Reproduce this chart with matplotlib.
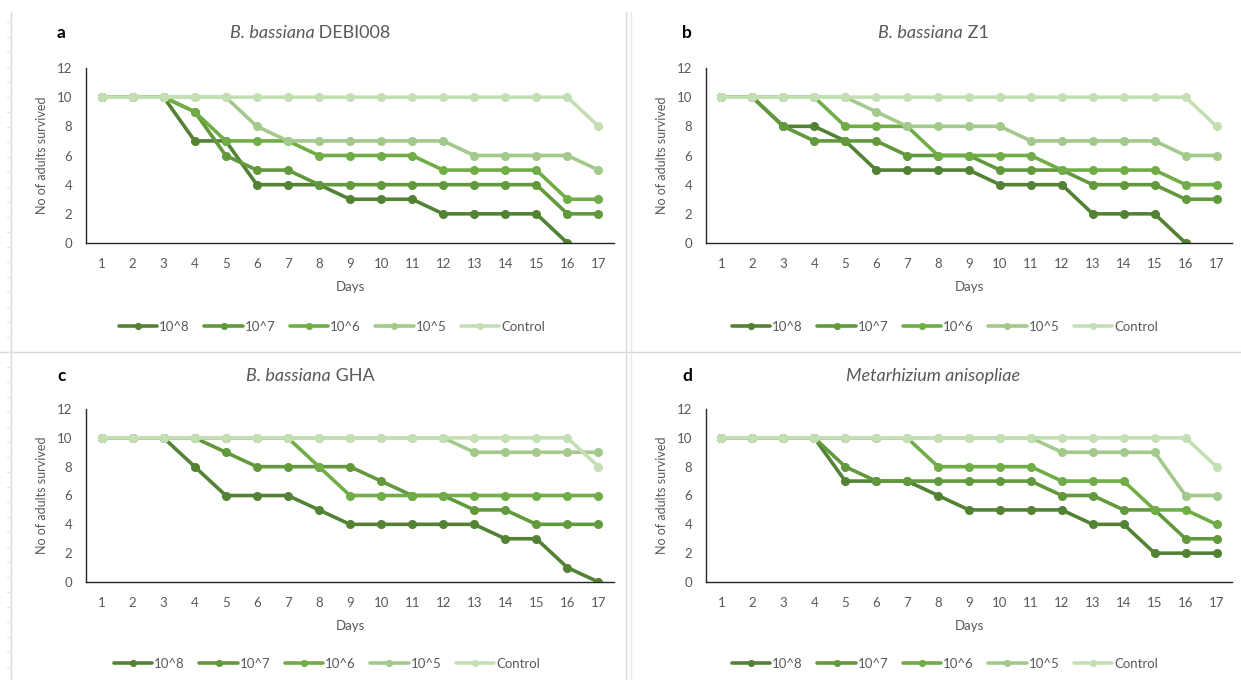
import numpy as np
import matplotlib.pyplot as plt
from matplotlib.lines import Line2D

plt.rcParams['font.family'] = ['Lato', 'DejaVu Sans']

nan = np.nan
days = list(range(1, 18))
series_names = ['10^8', '10^7', '10^6', '10^5', 'Control']
colors = ['#548235', '#62993d', '#70ad47', '#a3c98c', '#c5dfb5']

# panel a - B. bassiana DEBI008
a_1e8 = [10, 10, 10, 7, 7, 4, 4, 4, 3, 3, 3, 2, 2, 2, 2, 0, nan]
a_1e7 = [10, 10, 10, 9, 6, 5, 5, 4, 4, 4, 4, 4, 4, 4, 4, 2, 2]
a_1e6 = [10, 10, 10, 9, 7, 7, 7, 6, 6, 6, 6, 5, 5, 5, 5, 3, 3]
a_1e5 = [10, 10, 10, 10, 10, 8, 7, 7, 7, 7, 7, 7, 6, 6, 6, 6, 5]
a_ctl = [10, 10, 10, 10, 10, 10, 10, 10, 10, 10, 10, 10, 10, 10, 10, 10, 8]

# panel b - B. bassiana Z1
b_1e8 = [10, 10, 8, 8, 7, 5, 5, 5, 5, 4, 4, 4, 2, 2, 2, 0, nan]
b_1e7 = [10, 10, 8, 7, 7, 7, 6, 6, 6, 5, 5, 5, 4, 4, 4, 3, 3]
b_1e6 = [10, 10, 10, 10, 8, 8, 8, 6, 6, 6, 6, 5, 5, 5, 5, 4, 4]
b_1e5 = [10, 10, 10, 10, 10, 9, 8, 8, 8, 8, 7, 7, 7, 7, 7, 6, 6]
b_ctl = [10, 10, 10, 10, 10, 10, 10, 10, 10, 10, 10, 10, 10, 10, 10, 10, 8]

# panel c - B. bassiana GHA
c_1e8 = [10, 10, 10, 8, 6, 6, 6, 5, 4, 4, 4, 4, 4, 3, 3, 1, 0]
c_1e7 = [10, 10, 10, 10, 9, 8, 8, 8, 8, 7, 6, 6, 5, 5, 4, 4, 4]
c_1e6 = [10, 10, 10, 10, 10, 10, 10, 8, 6, 6, 6, 6, 6, 6, 6, 6, 6]
c_1e5 = [10, 10, 10, 10, 10, 10, 10, 10, 10, 10, 10, 10, 9, 9, 9, 9, 9]
c_ctl = [10, 10, 10, 10, 10, 10, 10, 10, 10, 10, 10, 10, 10, 10, 10, 10, 8]

# panel d - Metarhizium anisopliae
d_1e8 = [10, 10, 10, 10, 7, 7, 7, 6, 5, 5, 5, 5, 4, 4, 2, 2, 2]
d_1e7 = [10, 10, 10, 10, 8, 7, 7, 7, 7, 7, 7, 6, 6, 5, 5, 3, 3]
d_1e6 = [10, 10, 10, 10, 10, 10, 10, 8, 8, 8, 8, 7, 7, 7, 5, 5, 4]
d_1e5 = [10, 10, 10, 10, 10, 10, 10, 10, 10, 10, 10, 9, 9, 9, 9, 6, 6]
d_ctl = [10, 10, 10, 10, 10, 10, 10, 10, 10, 10, 10, 10, 10, 10, 10, 10, 8]

# (italic part, upright part) of each title
panels = [
    ('a', 'B. bassiana', ' DEBI008', [a_1e8, a_1e7, a_1e6, a_1e5, a_ctl]),
    ('b', 'B. bassiana', ' Z1', [b_1e8, b_1e7, b_1e6, b_1e5, b_ctl]),
    ('c', 'B. bassiana', ' GHA', [c_1e8, c_1e7, c_1e6, c_1e5, c_ctl]),
    ('d', 'Metarhizium anisopliae', '', [d_1e8, d_1e7, d_1e6, d_1e5, d_ctl]),
]

W, H = 1241, 680
fig = plt.figure(figsize=(W / 100, H / 100), dpi=100)
renderer = fig.canvas.get_renderer()

# pixel boxes: left, right, top, bottom of the plot area
boxes = [(86, 614, 68, 243), (706, 1232, 68, 243),
         (86, 614, 409, 582), (706, 1232, 409, 582)]
panel_x = [(0, 620), (626, 1241), (0, 620), (626, 1241)]
title_y = [33, 33, 376, 376]
legend_y = [327, 327, 664, 664]
legend_x = [332, 945, 327, 945]
letter_x = [57, 682, 57, 682]
grey = '#595959'

for i, (letter, t_it, t_rm, vals) in enumerate(panels):
    l, r, t, b = boxes[i]
    ax = fig.add_axes([l / W, 1 - b / H, (r - l) / W, (b - t) / H])
    for name, v, c in zip(series_names, vals, colors):
        ax.plot(days, v, color=c, lw=2.6, marker='o', ms=5.5, label=name,
                solid_capstyle='round')
    ax.set_xlim(0.5, 17.5)
    ax.set_ylim(0, 12)
    ax.set_xticks(days)
    ax.set_yticks(range(0, 13, 2))
    ax.tick_params(length=0, labelsize=9.5, labelcolor=grey)
    ax.tick_params(axis='x', pad=11)
    ax.tick_params(axis='y', pad=10)
    for s in ['top', 'right']:
        ax.spines[s].set_visible(False)
    for s in ['left', 'bottom']:
        ax.spines[s].set_color('#262626')
        ax.spines[s].set_linewidth(1.0)
    ax.set_xlabel('Days', fontsize=9.5, color=grey, labelpad=8)
    ax.set_ylabel('No of adults survived', fontsize=9, color=grey, labelpad=6)
    ax.patch.set_alpha(0)

    # title: italic species name followed by upright strain code, centred as a whole
    px0, px1 = panel_x[i]
    ty = 1 - title_y[i] / H
    t1 = fig.text(0, ty, t_it, fontsize=13, style='italic', color=grey,
                  ha='left', va='center')
    t2 = fig.text(0, ty, t_rm, fontsize=13, color=grey, ha='left', va='center')
    w1 = t1.get_window_extent(renderer).width if t_it else 0
    w2 = t2.get_window_extent(renderer).width if t_rm else 0
    x0 = (px0 + px1) / 2 - (w1 + w2) / 2
    t1.set_x(x0 / W)
    t2.set_x((x0 + w1) / W)

    fig.text(letter_x[i] / W, ty, letter, fontsize=12.5,
             fontweight='bold', color='black', ha='left', va='center')
    handles, labels = ax.get_legend_handles_labels()
    fig.legend(handles, labels, loc='center', ncol=5, frameon=False,
               bbox_to_anchor=(legend_x[i] / W, 1 - legend_y[i] / H),
               fontsize=9.5, labelcolor=grey, handlelength=2.9,
               handletextpad=0.15, columnspacing=1.1, markerscale=0.75)

# frame lines around the chart group
line_c = '#d9d9d9'
fig.add_artist(Line2D([626 / W, 626 / W], [1 - 12 / H, 0], color=line_c, lw=1))
fig.add_artist(Line2D([631 / W, 631 / W], [1 - 12 / H, 0], color='#e8e8e8', lw=1))
fig.add_artist(Line2D([0, 1], [1 - 352 / H, 1 - 352 / H], color=line_c, lw=1))
fig.add_artist(Line2D([11 / W, 11 / W], [1 - 12 / H, 0], color=line_c, lw=1))
for yy in np.arange(22, 680, 15):
    fig.add_artist(Line2D([7 / W, 11 / W], [1 - yy / H, 1 - yy / H],
                          color='#e3e3e3', lw=0.8))

fig.savefig('out.png', dpi=100)
